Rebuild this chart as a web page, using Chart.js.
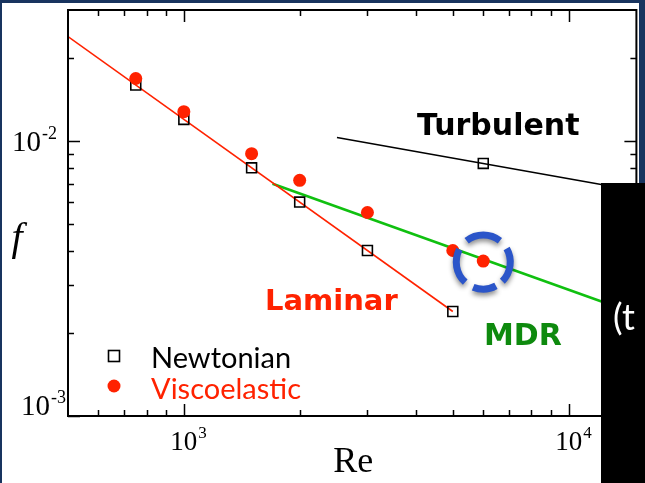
<!DOCTYPE html>
<html>
<head>
<meta charset="utf-8">
<script src="https://cdn.jsdelivr.net/npm/chart.js@4.4.1/dist/chart.umd.min.js"></script>
<style>
  html, body { margin: 0; padding: 0; background: #fff; }
  #wrap { width: 645px; height: 483px; position: relative; }
  canvas { display: block; }
</style>
</head>
<body>
<div id="wrap"><canvas id="chart" width="645" height="483"></canvas></div>
<script>
// Friction factor f versus Reynolds number Re
const reynolds = [750, 1000, 1500, 2000, 3000, 5000, 6000];
const fNewtonian = [0.016, 0.012, 0.008, 0.006, 0.004, 0.0024, 0.0083];
const fViscoelastic = [0.0169, 0.0128, 0.0090, 0.0072, 0.0055, 0.0040, 0.00366];

// Reference lines: laminar, turbulent and maximum drag reduction (MDR)
const laminarRe = [500, 5000];
const laminarF = [0.024, 0.0024];
const turbulentRe = [2500, 15000];
const turbulentF = [0.0103, 0.0066];
const mdrRe = [1700, 15000];
const mdrF = [0.0070, 0.00235];

// Axis ticks and their labels
const xMajorTicks = [1000, 10000];
const xMinorTicks = [600, 700, 800, 900, 2000, 3000, 4000, 5000, 6000, 7000, 8000, 9000];
const xTickExponents = ['3', '4'];
const yMajorTicks = [0.001, 0.01];
const yMinorTicks = [0.002, 0.003, 0.004, 0.005, 0.006, 0.007, 0.008, 0.009, 0.02];
const yTickExponents = ['-3', '-2'];

const seriesNames = ['Newtonian', 'Viscoelastic'];
const regimeNames = ['Laminar', 'Turbulent', 'MDR'];
const highlightedPoint = 6;
const boxText = '(t';

const RED = '#ff2200';
const GREEN_LINE = '#10c010';
const GREEN_TEXT = '#0e8a0e';
const NAVY = '#18345f';
const SERIF = '"Liberation Serif", "Times New Roman", serif';
const SANS = 'Lato, "Open Sans", sans-serif';
const BOLD = '"DejaVu Sans", Verdana, sans-serif';

const toPoints = (xs, ys) => xs.map((x, i) => ({ x, y: ys[i] }));

function drawPower(ctx, x, baseline, exp, align, big, small) {
  ctx.font = big + 'px ' + SERIF;
  const wb = ctx.measureText('10').width;
  ctx.font = small + 'px ' + SERIF;
  const we = ctx.measureText(exp).width;
  const x0 = align === 'center' ? x - wb / 2 : x - wb - we - 1;
  ctx.fillStyle = '#000';
  ctx.textAlign = 'left';
  ctx.textBaseline = 'alphabetic';
  ctx.font = big + 'px ' + SERIF;
  ctx.fillText('10', x0, baseline);
  ctx.font = small + 'px ' + SERIF;
  ctx.fillText(exp, x0 + wb + 1, baseline - big * 0.43);
}

const decor = {
  id: 'decor',
  beforeDraw(chart) {
    const ctx = chart.ctx;
    ctx.save();
    ctx.fillStyle = '#fff';
    ctx.fillRect(0, 0, chart.width, chart.height);
    ctx.restore();
  },
  afterDatasetsDraw(chart) {
    const ctx = chart.ctx;
    const xs = chart.scales.x, ys = chart.scales.y;
    const a = chart.chartArea;
    ctx.save();

    // ticks pointing into the plot on all four sides
    ctx.strokeStyle = '#000';
    ctx.lineWidth = 1.5;
    const xTick = (v, len) => {
      const px = Math.round(xs.getPixelForValue(v)) + 0.5;
      ctx.beginPath();
      ctx.moveTo(px, a.bottom); ctx.lineTo(px, a.bottom - len);
      ctx.moveTo(px, a.top); ctx.lineTo(px, a.top + len);
      ctx.stroke();
    };
    const yTick = (v, len) => {
      const py = Math.round(ys.getPixelForValue(v)) + 0.5;
      ctx.beginPath();
      ctx.moveTo(a.left, py); ctx.lineTo(a.left + len, py);
      ctx.moveTo(a.right, py); ctx.lineTo(a.right - len, py);
      ctx.stroke();
    };
    xMinorTicks.forEach(v => xTick(v, 6));
    xMajorTicks.forEach(v => xTick(v, 12));
    yMinorTicks.forEach(v => yTick(v, 6));
    yMajorTicks.forEach(v => yTick(v, 12));

    // plot frame
    ctx.lineWidth = 2;
    ctx.strokeRect(a.left, a.top, a.right - a.left, a.bottom - a.top);

    // tick labels
    xMajorTicks.forEach((v, i) => {
      drawPower(ctx, xs.getPixelForValue(v), a.bottom + 34, xTickExponents[i], 'center', 27, 17);
    });
    drawPower(ctx, 57, ys.getPixelForValue(yMajorTicks[1]) + 10, yTickExponents[1], 'right', 29, 18);
    drawPower(ctx, 66, ys.getPixelForValue(yMajorTicks[0]) - 1, yTickExponents[0], 'right', 29, 18);

    // axis titles
    ctx.fillStyle = '#000';
    ctx.textAlign = 'center';
    ctx.font = '36px ' + SERIF;
    ctx.fillText('Re', (a.left + a.right) / 2 + 1, 472);
    ctx.font = 'italic 40px ' + SERIF;
    ctx.fillText('f', 17, 250);

    // regime labels
    ctx.textAlign = 'left';
    ctx.fillStyle = '#000';
    ctx.font = 'bold 30px ' + BOLD;
    ctx.fillText(regimeNames[1], 417, 135);
    ctx.fillStyle = GREEN_TEXT;
    ctx.fillText(regimeNames[2], 484, 345);
    ctx.fillStyle = RED;
    ctx.font = 'bold 29px ' + BOLD;
    ctx.fillText(regimeNames[0], 265, 310);

    // legend
    const nw = chart.data.datasets[1], vs = chart.data.datasets[0];
    ctx.strokeStyle = nw.borderColor;
    ctx.lineWidth = 1.6;
    ctx.strokeRect(108.5, 350.5, 11, 11);
    ctx.fillStyle = vs.backgroundColor;
    ctx.beginPath();
    ctx.arc(114, 386, 6.5, 0, Math.PI * 2);
    ctx.fill();
    ctx.font = '29px ' + SANS;
    ctx.fillStyle = '#000';
    ctx.fillText(seriesNames[0], 151, 368);
    ctx.fillStyle = RED;
    ctx.fillText(seriesNames[1], 151, 399);

    // dashed ring around the highlighted viscoelastic point
    const cx = xs.getPixelForValue(reynolds[highlightedPoint]);
    const cy = ys.getPixelForValue(fViscoelastic[highlightedPoint]) + 1;
    const r = 27;
    const deg = Math.PI / 180;
    ctx.save();
    ctx.shadowColor = 'rgba(0,0,0,0.45)';
    ctx.shadowBlur = 5;
    ctx.shadowOffsetX = 0;
    ctx.shadowOffsetY = 3;
    ctx.strokeStyle = '#2b55c9';
    ctx.lineWidth = 7;
    ctx.lineCap = 'butt';
    [[-128, -52], [-30, 45], [62, 112], [132, 208]].forEach(([s, e]) => {
      ctx.beginPath();
      ctx.arc(cx, cy, r, s * deg, e * deg);
      ctx.stroke();
    });
    ctx.restore();

    // slide frame and the dark box on the right
    ctx.fillStyle = NAVY;
    ctx.fillRect(0, 0, chart.width, 3);
    ctx.fillRect(0, 0, 2, chart.height);
    ctx.fillRect(639, 0, 6, chart.height);
    ctx.fillStyle = '#000';
    ctx.fillRect(601, 183, 44, 300);
    ctx.fillStyle = '#fff';
    ctx.font = '36px ' + SANS;
    ctx.fillText(boxText, 613, 330);

    ctx.restore();
  }
};

new Chart(document.getElementById('chart'), {
  type: 'scatter',
  data: {
    datasets: [
      {
        label: seriesNames[1],
        data: toPoints(reynolds, fViscoelastic),
        pointStyle: 'circle',
        pointRadius: 6.5,
        backgroundColor: RED,
        borderWidth: 0,
        order: 1
      },
      {
        label: seriesNames[0],
        data: toPoints(reynolds, fNewtonian),
        pointStyle: 'rect',
        pointRadius: 7,
        backgroundColor: 'rgba(0,0,0,0)',
        borderColor: '#000',
        borderWidth: 1.6,
        order: 2
      },
      {
        label: regimeNames[0],
        data: toPoints(laminarRe, laminarF),
        showLine: true,
        pointRadius: 0,
        borderColor: RED,
        borderWidth: 1.6,
        order: 3
      },
      {
        label: regimeNames[1],
        data: toPoints(turbulentRe, turbulentF),
        showLine: true,
        pointRadius: 0,
        borderColor: '#000',
        borderWidth: 1.5,
        order: 3
      },
      {
        label: regimeNames[2],
        data: toPoints(mdrRe, mdrF),
        showLine: true,
        pointRadius: 0,
        borderColor: GREEN_LINE,
        borderWidth: 2.6,
        order: 3
      }
    ]
  },
  options: {
    responsive: false,
    animation: false,
    devicePixelRatio: 1,
    layout: { padding: { left: 68, right: 8, top: 10, bottom: 67 } },
    scales: {
      x: { type: 'logarithmic', min: 500, max: 15000, display: false },
      y: { type: 'logarithmic', min: 0.001, max: 0.03, display: false }
    },
    plugins: {
      legend: { display: false },
      tooltip: { enabled: false }
    }
  },
  plugins: [decor]
});
</script>
</body>
</html>
